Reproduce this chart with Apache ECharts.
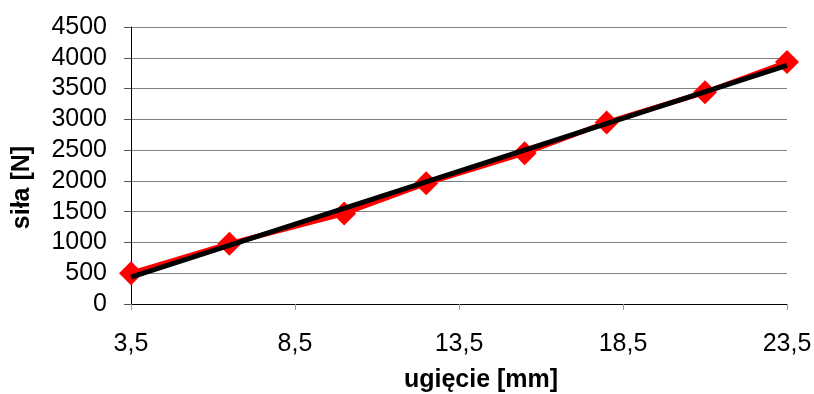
<!DOCTYPE html>
<html>
<head>
<meta charset="utf-8">
<script src="https://cdn.jsdelivr.net/npm/echarts@6/dist/echarts.min.js"></script>
<style>
  html, body { margin: 0; padding: 0; background: #fff; }
  #chart { width: 814px; height: 394px; }
</style>
</head>
<body>
<div id="chart"></div>
<script>
// ugięcie [mm] / siła [N]
const deflection = [3.5, 6.5, 10, 12.5, 15.5, 18, 21, 23.5];
const force = [500, 980, 1470, 1960, 2450, 2950, 3440, 3930];
const xTicks = [3.5, 8.5, 13.5, 18.5, 23.5];
const yTicks = [0, 500, 1000, 1500, 2000, 2500, 3000, 3500, 4000, 4500];

// linia trendu (regresja liniowa, jak w Excelu)
function trend(xs, ys) {
  const n = xs.length;
  const mx = xs.reduce((a, b) => a + b, 0) / n;
  const my = ys.reduce((a, b) => a + b, 0) / n;
  let sxy = 0, sxx = 0;
  for (let i = 0; i < n; i++) {
    sxy += (xs[i] - mx) * (ys[i] - my);
    sxx += (xs[i] - mx) * (xs[i] - mx);
  }
  const k = sxy / sxx;
  const b = my - k * mx;
  const x0 = xs[0], x1 = xs[n - 1];
  return [[x0, k * x0 + b], [x1, k * x1 + b]];
}

const font = "Arial, 'Liberation Sans', sans-serif";
const chart = echarts.init(document.getElementById("chart"));

chart.setOption({
  animation: false,
  grid: { left: 131, right: 27, top: 27, bottom: 90, outerBoundsMode: "none", containLabel: false },
  xAxis: {
    type: "value",
    min: xTicks[0],
    max: xTicks[xTicks.length - 1],
    interval: xTicks[1] - xTicks[0],
    name: "ugięcie [mm]",
    nameLocation: "middle",
    nameGap: 64,
    nameTextStyle: {
      fontFamily: font, fontSize: 25, fontWeight: "bold", color: "#000",
      padding: [0, 0, 0, 44],
    },
    axisLine: { show: true, lineStyle: { color: "#000", width: 1 } },
    axisTick: { show: true, length: 6, lineStyle: { color: "#999" } },
    axisLabel: {
      margin: 28,
      fontFamily: font,
      fontSize: 25,
      color: "#000",
      formatter: (v) => String(v).replace(".", ","),
    },
    splitLine: { show: false },
  },
  yAxis: {
    type: "value",
    min: yTicks[0],
    max: yTicks[yTicks.length - 1],
    interval: yTicks[1] - yTicks[0],
    name: "siła [N]",
    nameLocation: "middle",
    nameGap: 96,
    nameTextStyle: {
      fontFamily: font, fontSize: 25, fontWeight: "bold", color: "#000",
      padding: [0, 44, 0, 0],
    },
    axisLine: { show: true, lineStyle: { color: "#000", width: 1 } },
    axisTick: { show: true, length: 7, lineStyle: { color: "#555" } },
    axisLabel: {
      margin: 24, fontFamily: font, fontSize: 25, color: "#000",
      formatter: (v) => String(v),
    },
    splitLine: { show: true, lineStyle: { color: "#808080", width: 1 } },
  },
  series: [
    {
      name: "pomiar",
      type: "line",
      data: deflection.map((x, i) => [x, force[i]]),
      symbol: "diamond",
      symbolSize: [24, 24],
      lineStyle: { color: "#ff0000", width: 5 },
      itemStyle: { color: "#ff0000" },
      z: 2,
    },
    {
      name: "trend",
      type: "line",
      data: trend(deflection, force),
      symbol: "none",
      lineStyle: { color: "#000", width: 5 },
      z: 3,
    },
  ],
});
</script>
</body>
</html>
